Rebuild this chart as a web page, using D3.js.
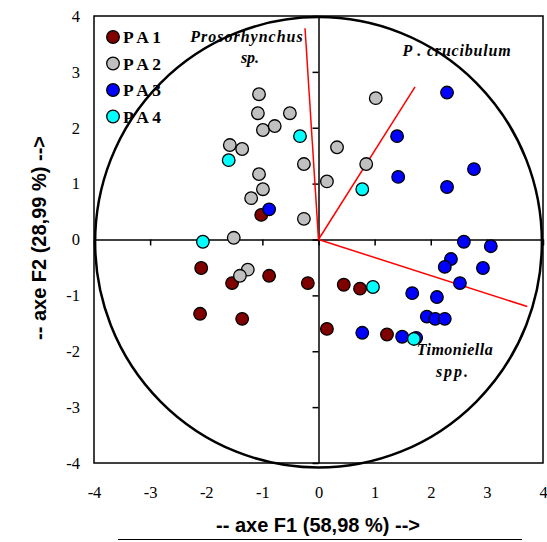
<!DOCTYPE html>
<html>
<head>
<meta charset="utf-8">
<script src="https://cdn.jsdelivr.net/npm/d3@7"></script>
<style>
  body { margin: 0; background: #fff; }
  svg { display: block; }
  .axis-title { font-family: "Liberation Sans", Arial, sans-serif; font-size: 20px; font-weight: bold; }
  .legend-text { font-family: "Liberation Serif", serif; font-size: 17.5px; font-weight: bold; }
  .species { font-family: "Liberation Serif", serif; font-size: 16px; font-weight: bold; font-style: italic; }
</style>
</head>
<body>
<div id="chart"></div>
<script>
// tick values on both axes
const ticks = [-4, -3, -2, -1, 0, 1, 2, 3, 4];

// groups (legend) and their colours
const groups = ["P A 1", "P A 2", "P A 3", "P A 4"];
const colors = ["#800000", "#c0c0c0", "#0000ff", "#00ffff"];

// factor scores [F1, F2] per group
const pa1 = [[-1.02, 0.44], [-2.09, -0.51], [-1.54, -0.78], [-0.88, -0.65], [-0.19, -0.78],
  [-2.11, -1.33], [-1.36, -1.42], [0.15, -1.60], [0.45, -0.81], [0.74, -0.88], [1.22, -1.70]];
const pa2 = [[-1.06, 2.60], [-1.08, 2.26], [-0.51, 2.26], [-0.99, 1.96], [-0.78, 2.03],
  [-1.58, 1.69], [-1.36, 1.62], [-0.26, 1.35], [-1.06, 1.17], [-0.99, 0.90], [-1.20, 0.74],
  [-0.26, 0.37], [-1.51, 0.03], [0.15, 1.04], [0.33, 1.65], [1.02, 2.53], [0.85, 1.35],
  [-1.26, -0.54], [-1.40, -0.65]];
const pa3 = [[-0.88, 0.54], [2.29, 2.63], [1.40, 1.85], [1.42, 1.12], [2.29, 0.94], [2.77, 1.26],
  [2.59, -0.04], [3.07, -0.12], [2.36, -0.35], [2.25, -0.49], [2.93, -0.51], [2.52, -0.78],
  [1.67, -0.96], [2.11, -1.03], [1.93, -1.38], [2.08, -1.42], [2.25, -1.42], [0.78, -1.67],
  [1.49, -1.74], [1.74, -1.76]];
const pa4 = [[-0.33, 1.85], [-1.60, 1.42], [-2.06, -0.04], [0.78, 0.90], [0.97, -0.85], [1.70, -1.78]];

// variable vectors (species)
const species = ["Prosorhynchus", "P. crucibulum", "Timoniella"];
const vectors = [[-0.24, 3.78], [1.72, 2.73], [3.72, -1.20]];

const W = 547, H = 542;
const svg = d3.select("#chart").append("svg").attr("width", W).attr("height", H);

const x = d3.scaleLinear().domain([-4, 4]).range([94, 543]);
const y = d3.scaleLinear().domain([-4, 4]).range([463, 16]);

// frame
svg.append("rect").attr("x", x(-4)).attr("y", y(4))
  .attr("width", x(4) - x(-4)).attr("height", y(-4) - y(4))
  .attr("fill", "none").attr("stroke", "#000").attr("stroke-width", 1.5);

const styleLabels = g => g.selectAll("text")
  .attr("font-family", "Liberation Serif, serif").attr("font-size", 16.5).attr("fill", "#000");

// tick labels outside the frame
svg.append("g").attr("transform", `translate(0,${y(-4)})`)
  .call(d3.axisBottom(x).tickValues(ticks).tickSize(0).tickPadding(23).tickFormat(d => d))
  .call(g => g.select(".domain").remove())
  .call(styleLabels);
svg.append("g").attr("transform", `translate(${x(-4)},0)`)
  .call(d3.axisLeft(y).tickValues(ticks).tickSize(0).tickPadding(14).tickFormat(d => d))
  .call(g => g.select(".domain").remove())
  .call(styleLabels);

// zero axes with ticks
svg.append("g").attr("transform", `translate(0,${y(0)})`)
  .call(d3.axisBottom(x).tickValues(ticks).tickSize(6).tickSizeOuter(0).tickFormat(""))
  .call(g => g.selectAll("path, line").attr("stroke", "#000").attr("stroke-width", 1.5));
svg.append("g").attr("transform", `translate(${x(0)},0)`)
  .call(d3.axisLeft(y).tickValues(ticks).tickSize(6).tickSizeOuter(0).tickFormat(""))
  .call(g => g.selectAll("path, line").attr("stroke", "#000").attr("stroke-width", 1.5));

// correlation circle
svg.append("ellipse")
  .attr("cx", x(0)).attr("cy", y(-0.05))
  .attr("rx", x(3.98) - x(0)).attr("ry", y(-0.05) - y(3.98))
  .attr("fill", "none").attr("stroke", "#000").attr("stroke-width", 2.5);

// vectors
svg.selectAll(".vec").data(vectors).join("line")
  .attr("x1", x(0)).attr("y1", y(0))
  .attr("x2", d => x(d[0])).attr("y2", d => y(d[1]))
  .attr("stroke", "#ff0000").attr("stroke-width", 1.5);

// species labels
const lab = svg.append("g").attr("class", "species");
lab.append("text").attr("x", 247).attr("y", 42).attr("text-anchor", "middle")
  .attr("letter-spacing", 1).text(species[0]);
lab.append("text").attr("x", 250).attr("y", 63).attr("text-anchor", "middle").text("sp.");
lab.append("text").attr("x", 457).attr("y", 56).attr("text-anchor", "middle")
  .attr("letter-spacing", 0.8).text(species[1].replace(". ", " . "));
lab.append("text").attr("x", 455).attr("y", 355).attr("text-anchor", "middle")
  .attr("letter-spacing", 0.5).text(species[2]);
lab.append("text").attr("x", 453).attr("y", 377).attr("text-anchor", "middle")
  .attr("letter-spacing", 2).text("spp.");

// points
[pa1, pa2, pa3, pa4].forEach((pts, i) => {
  svg.append("g").selectAll("circle").data(pts).join("circle")
    .attr("cx", d => x(d[0])).attr("cy", d => y(d[1])).attr("r", 6.3)
    .attr("fill", colors[i]).attr("stroke", "#000").attr("stroke-width", 1.3);
});

// legend
const leg = svg.append("g").selectAll("g").data(groups).join("g")
  .attr("transform", (d, i) => `translate(113,${37 + i * 26.5})`);
leg.append("circle").attr("r", 6.3)
  .attr("fill", (d, i) => colors[i]).attr("stroke", "#000").attr("stroke-width", 1.3);
leg.append("text").attr("class", "legend-text").attr("x", 10).attr("y", 6).text(d => d);

// axis titles
svg.append("text").attr("class", "axis-title").attr("x", 318).attr("y", 532)
  .attr("text-anchor", "middle").text("-- axe F1 (58,98 %) -->");
svg.append("text").attr("class", "axis-title")
  .attr("transform", "translate(46,238) rotate(-90)")
  .attr("text-anchor", "middle").text("-- axe F2 (28,99 %) -->");

// rule under the chart
svg.append("line").attr("x1", 118).attr("x2", 522).attr("y1", 539.5).attr("y2", 539.5)
  .attr("stroke", "#000").attr("stroke-width", 1);
</script>
</body>
</html>
